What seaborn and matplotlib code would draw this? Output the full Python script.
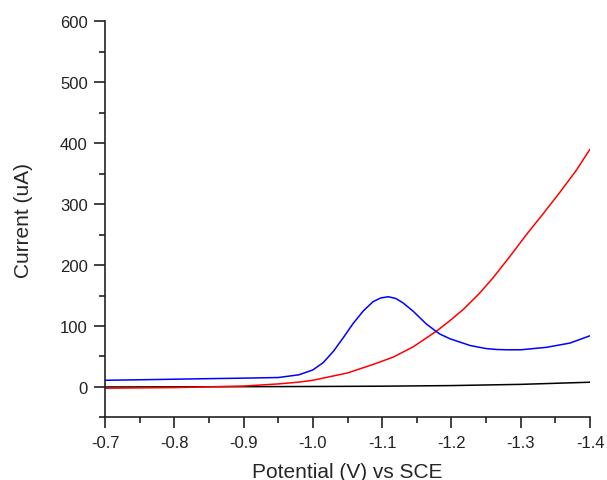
import seaborn as sns
import pandas as pd
import matplotlib.pyplot as plt
from matplotlib.ticker import MultipleLocator, FormatStrFormatter

# values
blue_v = [-0.70, -0.76, -0.84, -0.90, -0.95, -0.98, -1.00, -1.015, -1.03, -1.044,
          -1.058, -1.073, -1.087, -1.098, -1.109, -1.12, -1.13, -1.145, -1.164, -1.183,
          -1.198, -1.227, -1.25, -1.265, -1.28, -1.30, -1.337, -1.371, -1.40]
blue_i = [11, 12, 13.5, 14.5, 15.5, 20, 28, 40, 59, 81,
          104, 125, 140, 146, 148, 145, 138, 124, 103, 87,
          79, 68, 63, 61.5, 61, 61, 65, 72, 84]

red_v = [-0.70, -0.80, -0.90, -0.95, -0.98, -1.00, -1.05, -1.087, -1.116, -1.145,
         -1.179, -1.198, -1.217, -1.24, -1.26, -1.285, -1.309, -1.333, -1.357, -1.38,
         -1.40]
red_i = [-2, -1, 1.5, 5, 8, 11, 23, 37, 49, 66,
         92, 109, 127, 153, 179, 215, 251, 285, 320, 355,
         390]

black_v = [-0.70, -0.80, -0.90, -1.00, -1.10, -1.20, -1.30, -1.40]
black_i = [0, 0.2, 0.5, 0.8, 1.3, 2.3, 4.3, 7.8]

df = pd.concat([
    pd.DataFrame({'Potential': black_v, 'Current': black_i, 'curve': 'black'}),
    pd.DataFrame({'Potential': red_v, 'Current': red_i, 'curve': 'red'}),
    pd.DataFrame({'Potential': blue_v, 'Current': blue_i, 'curve': 'blue'}),
])

sns.set_style('ticks')
plt.rcParams['font.family'] = ['Liberation Sans', 'DejaVu Sans']
plt.rcParams['axes.unicode_minus'] = False

fig = plt.figure(figsize=(6.07, 4.81), dpi=100)
ax = fig.add_axes([0.173, 0.130, 0.799, 0.824])
sns.lineplot(df, x='Potential', y='Current', hue='curve',
             palette={'black': '#000000', 'red': '#ff0000', 'blue': '#0000ff'},
             estimator=None, sort=False, linewidth=1.1, legend=False, ax=ax)

ax.set_xlim(-0.7, -1.4)
ax.set_ylim(-50, 600)
ax.xaxis.set_major_locator(MultipleLocator(0.1))
ax.xaxis.set_minor_locator(MultipleLocator(0.05))
ax.xaxis.set_major_formatter(FormatStrFormatter('%.1f'))
ax.yaxis.set_major_locator(MultipleLocator(100))
ax.yaxis.set_minor_locator(MultipleLocator(50))
ax.tick_params(which='major', length=8, width=1.2, labelsize=12, pad=4.5, colors='#222222')
ax.tick_params(which='minor', length=4, width=1.2, colors='#222222')
for s in ['top', 'right']:
    ax.spines[s].set_visible(False)
for s in ['left', 'bottom']:
    ax.spines[s].set_linewidth(1.2)
    ax.spines[s].set_color('#222222')

ax.set_xlabel('Potential (V) vs SCE', fontsize=15, labelpad=9)
ax.set_ylabel('Current (uA)', fontsize=15, labelpad=19)

fig.savefig('out.png', dpi=100)
